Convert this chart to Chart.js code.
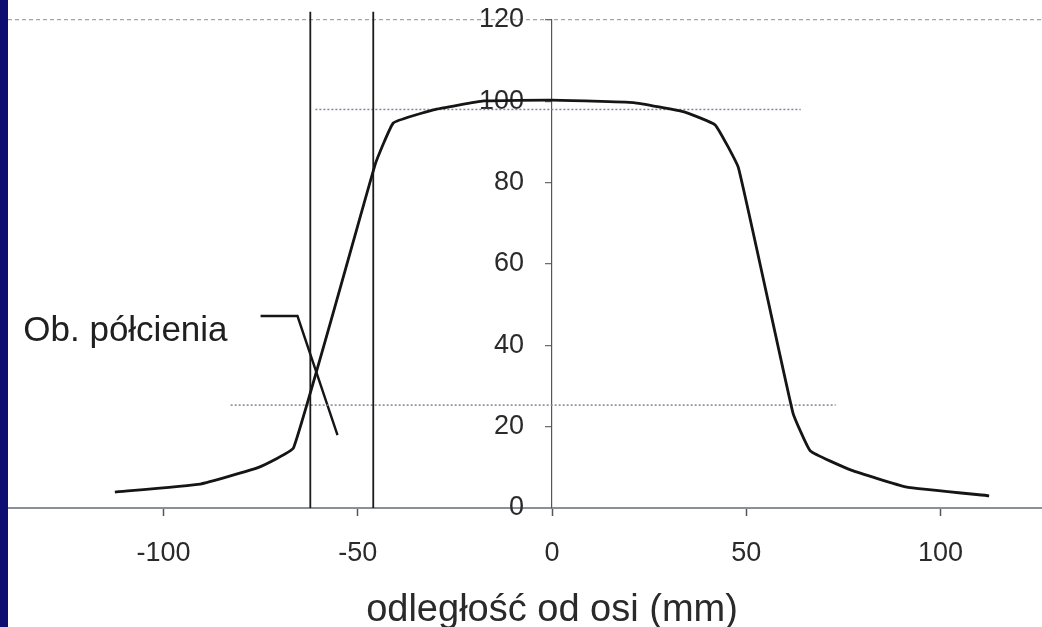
<!DOCTYPE html>
<html>
<head>
<meta charset="utf-8">
<script src="https://cdn.jsdelivr.net/npm/chart.js@4.4.1/dist/chart.umd.min.js"></script>
<style>
  html, body { margin: 0; padding: 0; background: #fff; overflow: hidden; }
  .page { position: relative; width: 1042px; height: 627px; overflow: hidden; background: #fff; }
  .band { position: absolute; left: 0; top: 0; width: 8px; height: 627px; background: #0d0d72; z-index: 2; }
  .chart { position: absolute; left: 8px; top: 0; width: 1088px; height: 627px; }
</style>
</head>
<body>
<div class="page">
  <div class="chart"><canvas id="profile" width="1088" height="627"></canvas></div>
  <div class="band"></div>
</div>
<script>
// beam profile: distance from axis (mm) vs relative dose (%)
const distanceMm = [-112.5, -90.5, -75.5, -66.5, -45.5, -40.8, -30.5, -17.6, 0, 21, 34, 42, 48, 62, 66.5, 77, 91, 112.5];
const dosePct    = [3.9, 5.9, 10, 14.8, 84.5, 94.7, 97.9, 100.1, 100.3, 99.7, 97.4, 94.2, 83.6, 23.4, 14, 9.3, 5.2, 3];

// vertical marker lines (penumbra edges)
const markerXMm = [-62.2, -46];
const markerTop = 122;

// dotted reference levels
const refLevelPct = [98, 25.3];
const refStartMm  = [-60.9, -82.7];
const refEndMm    = [64, 73];

// leader of the "Ob. półcienia" label
const leaderXMm  = [-75, -65.5, -55.2];
const leaderYPct = [47.2, 47.2, 17.9];
const leaderText = 'Ob. półcienia';

const xTicks = [-100, -50, 0, 50, 100];
const yTicks = [0, 20, 40, 60, 80, 100, 120];
const xTitle = 'odległość od osi (mm)';

const FONT = "'Liberation Sans', Arial, sans-serif";

function pts(xs, ys) {
  return xs.map((x, i) => ({ x: x, y: ys[i] }));
}

const datasets = [
  {
    data: pts(distanceMm, dosePct),
    borderColor: '#151515',
    borderWidth: 2.8,
    tension: 0.1
  }
];

markerXMm.forEach(x => {
  datasets.push({
    data: pts([x, x], [0, markerTop]),
    borderColor: '#1a1a1a',
    borderWidth: 1.8,
    clip: false
  });
});

refLevelPct.forEach((lvl, i) => {
  datasets.push({
    data: pts([refStartMm[i], refEndMm[i]], [lvl, lvl]),
    borderColor: '#7f8796',
    borderWidth: 1.5,
    borderDash: [2, 2]
  });
});

datasets.push({
  data: pts(leaderXMm, leaderYPct),
  borderColor: '#151515',
  borderWidth: 2.4
});

datasets.forEach(d => {
  d.showLine = true;
  d.pointRadius = 0;
  d.fill = false;
});

// label next to the leader line
const leaderLabel = {
  id: 'leaderLabel',
  afterDatasetsDraw(chart) {
    const { ctx, scales } = chart;
    const x = scales.x.getPixelForValue(leaderXMm[0]) - 33;
    const y = scales.y.getPixelForValue(leaderYPct[0]) + 25;
    ctx.save();
    ctx.font = '35px ' + FONT;
    ctx.fillStyle = '#202020';
    ctx.textAlign = 'right';
    ctx.textBaseline = 'alphabetic';
    ctx.fillText(leaderText, x, y);
    ctx.restore();
  }
};

new Chart(document.getElementById('profile'), {
  type: 'scatter',
  data: { datasets: datasets },
  options: {
    responsive: false,
    animation: false,
    layout: { padding: { top: 20, left: 0, right: 0, bottom: 0 } },
    plugins: { legend: { display: false }, tooltip: { enabled: false } },
    scales: {
      x: {
        type: 'linear',
        position: 'bottom',
        min: -140,
        max: 140,
        afterBuildTicks: s => { s.ticks = xTicks.map(v => ({ value: v })); },
        afterFit: s => { s.height = 119; s.paddingLeft = 0; s.paddingRight = 0; },
        ticks: { color: '#2a2a2a', font: { family: FONT, size: 27 }, padding: 21, maxRotation: 0 },
        grid: { drawOnChartArea: false, drawTicks: true, tickLength: 8, tickColor: '#555', tickWidth: 1.5 },
        border: { display: true, color: '#8a909a', width: 2 },
        title: { display: true, text: xTitle, color: '#2a2a2a', font: { family: FONT, size: 38 }, padding: { top: 0, bottom: -6 } }
      },
      y: {
        type: 'linear',
        position: 'center',
        min: 0,
        max: 120,
        afterBuildTicks: s => { s.ticks = yTicks.map(v => ({ value: v })); },
        afterFit: s => { s.paddingTop = 0; s.paddingBottom = 0; },
        ticks: { color: '#2a2a2a', font: { family: FONT, size: 27 }, padding: 22 },
        grid: {
          drawOnChartArea: true,
          color: c => (c.tick && c.tick.value === 120 ? '#a0a6b0' : 'rgba(0,0,0,0)'),
          lineWidth: 1.3,
          drawTicks: true,
          tickLength: 6,
          tickColor: '#666',
          tickWidth: 1.2
        },
        border: { display: true, color: '#555', width: 1.2, dash: [4, 3] }
      }
    }
  },
  plugins: [leaderLabel]
});
</script>
</body>
</html>
